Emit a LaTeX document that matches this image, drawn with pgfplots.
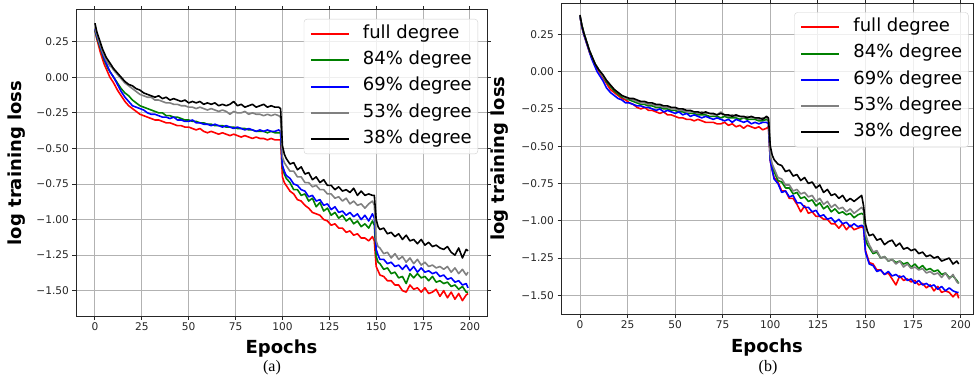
\documentclass[border=0pt]{standalone}
\usepackage{fontspec}
\setmainfont{DejaVu Sans}
\newfontfamily\capfont{Liberation Serif}
\usepackage{pgfplots}
\usepackage{pgfplotstable}
\pgfplotsset{compat=1.18}
\definecolor{mplgreen}{RGB}{0,128,0}
\definecolor{mplgray}{RGB}{128,128,128}

\pgfplotstableread{
x r g b s k
0 0.33 0.33 0.34 0.35 0.38
1 0.27 0.28 0.29 0.30 0.32
2 0.22 0.24 0.25 0.26 0.28
3 0.17 0.20 0.21 0.22 0.24
4 0.13 0.16 0.17 0.18 0.20
5 0.09 0.12 0.13 0.15 0.17
6 0.06 0.09 0.10 0.12 0.14
7 0.03 0.06 0.07 0.10 0.12
8 0.00 0.04 0.04 0.08 0.10
9 -0.02 0.02 0.02 0.07 0.08
10 -0.04 0.00 0.00 0.05 0.06
12 -0.09 -0.04 -0.05 0.02 0.03
14 -0.13 -0.08 -0.10 -0.01 0.00
16 -0.17 -0.11 -0.14 -0.04 -0.03
18 -0.20 -0.13 -0.17 -0.06 -0.05
20 -0.22 -0.16 -0.20 -0.08 -0.06
22 -0.24 -0.18 -0.21 -0.10 -0.08
24 -0.26 -0.20 -0.22 -0.12 -0.09
26 -0.27 -0.21 -0.23 -0.13 -0.11
28 -0.28 -0.22 -0.25 -0.14 -0.12
30 -0.29 -0.23 -0.26 -0.14 -0.13
32 -0.30 -0.24 -0.26 -0.16 -0.14
34 -0.30 -0.25 -0.27 -0.16 -0.13
36 -0.31 -0.25 -0.28 -0.17 -0.15
38 -0.32 -0.27 -0.28 -0.18 -0.14
40 -0.32 -0.27 -0.29 -0.18 -0.16
42 -0.33 -0.28 -0.28 -0.19 -0.15
44 -0.34 -0.28 -0.30 -0.19 -0.16
46 -0.34 -0.29 -0.30 -0.20 -0.17
48 -0.35 -0.30 -0.31 -0.20 -0.16
50 -0.35 -0.30 -0.31 -0.21 -0.18
52 -0.36 -0.31 -0.30 -0.21 -0.17
54 -0.37 -0.31 -0.32 -0.22 -0.18
56 -0.36 -0.32 -0.32 -0.21 -0.17
58 -0.38 -0.32 -0.33 -0.22 -0.19
60 -0.39 -0.33 -0.33 -0.23 -0.18
62 -0.38 -0.33 -0.34 -0.22 -0.19
64 -0.39 -0.34 -0.33 -0.23 -0.18
66 -0.40 -0.34 -0.34 -0.24 -0.20
68 -0.39 -0.34 -0.35 -0.23 -0.19
70 -0.40 -0.35 -0.34 -0.24 -0.20
72 -0.41 -0.35 -0.35 -0.26 -0.19
74 -0.40 -0.35 -0.36 -0.24 -0.17
76 -0.41 -0.36 -0.35 -0.25 -0.20
78 -0.42 -0.36 -0.36 -0.25 -0.19
80 -0.41 -0.36 -0.37 -0.24 -0.21
82 -0.42 -0.37 -0.36 -0.26 -0.20
84 -0.43 -0.37 -0.37 -0.25 -0.19
86 -0.42 -0.38 -0.38 -0.26 -0.21
88 -0.43 -0.38 -0.37 -0.26 -0.20
90 -0.43 -0.38 -0.38 -0.27 -0.19
92 -0.44 -0.39 -0.37 -0.26 -0.21
94 -0.43 -0.38 -0.38 -0.27 -0.20
96 -0.44 -0.39 -0.38 -0.26 -0.21
98 -0.44 -0.39 -0.37 -0.27 -0.21
99 -0.44 -0.39 -0.38 -0.28 -0.22
100 -0.70 -0.63 -0.62 -0.56 -0.48
101 -0.74 -0.68 -0.66 -0.60 -0.54
102 -0.76 -0.71 -0.69 -0.62 -0.57
104 -0.80 -0.74 -0.71 -0.66 -0.61
106 -0.82 -0.79 -0.75 -0.66 -0.60
108 -0.86 -0.79 -0.76 -0.70 -0.65
110 -0.87 -0.83 -0.79 -0.70 -0.63
112 -0.90 -0.82 -0.80 -0.74 -0.68
114 -0.92 -0.87 -0.84 -0.74 -0.67
116 -0.95 -0.85 -0.83 -0.77 -0.72
118 -0.96 -0.91 -0.87 -0.76 -0.70
120 -0.97 -0.88 -0.86 -0.79 -0.74
122 -1.00 -0.94 -0.90 -0.79 -0.72
124 -1.01 -0.92 -0.89 -0.82 -0.76
126 -1.04 -0.97 -0.93 -0.82 -0.76
128 -1.03 -0.95 -0.91 -0.85 -0.79
130 -1.06 -0.99 -0.95 -0.84 -0.77
132 -1.06 -0.97 -0.94 -0.87 -0.80
134 -1.09 -1.01 -0.97 -0.85 -0.79
136 -1.08 -0.99 -0.95 -0.89 -0.81
138 -1.11 -1.03 -0.98 -0.87 -0.78
140 -1.10 -1.01 -0.96 -0.90 -0.83
142 -1.13 -1.05 -1.00 -0.89 -0.80
144 -1.13 -1.03 -0.97 -0.92 -0.83
146 -1.15 -1.06 -1.01 -0.89 -0.82
148 -1.12 -1.01 -0.96 -0.87 -0.83
149 -1.15 -1.04 -0.99 -0.90 -0.83
150 -1.33 -1.26 -1.21 -1.15 -1.00
151 -1.36 -1.30 -1.25 -1.19 -1.05
152 -1.39 -1.31 -1.28 -1.20 -1.07
154 -1.40 -1.35 -1.28 -1.24 -1.06
156 -1.43 -1.34 -1.31 -1.23 -1.10
158 -1.43 -1.38 -1.30 -1.27 -1.09
160 -1.46 -1.37 -1.33 -1.24 -1.12
162 -1.46 -1.41 -1.32 -1.28 -1.10
164 -1.50 -1.40 -1.35 -1.26 -1.14
166 -1.51 -1.45 -1.32 -1.30 -1.11
168 -1.46 -1.38 -1.36 -1.27 -1.15
170 -1.49 -1.41 -1.33 -1.31 -1.14
172 -1.48 -1.38 -1.37 -1.28 -1.17
174 -1.51 -1.41 -1.34 -1.32 -1.14
176 -1.48 -1.40 -1.37 -1.30 -1.18
178 -1.52 -1.43 -1.36 -1.33 -1.16
180 -1.51 -1.40 -1.38 -1.32 -1.19
182 -1.49 -1.44 -1.37 -1.34 -1.18
184 -1.54 -1.43 -1.40 -1.33 -1.20
186 -1.50 -1.45 -1.39 -1.35 -1.21
188 -1.55 -1.44 -1.42 -1.33 -1.19
190 -1.51 -1.47 -1.41 -1.37 -1.23
192 -1.56 -1.46 -1.44 -1.34 -1.25
194 -1.52 -1.49 -1.43 -1.38 -1.20
196 -1.57 -1.47 -1.46 -1.35 -1.27
198 -1.53 -1.51 -1.45 -1.39 -1.21
199 -1.52 -1.51 -1.48 -1.37 -1.22
}\dataA

\pgfplotstableread{
x r g b s k
0 0.37 0.37 0.37 0.37 0.38
1 0.30 0.31 0.30 0.31 0.31
2 0.25 0.26 0.25 0.26 0.26
3 0.21 0.22 0.21 0.22 0.22
4 0.17 0.18 0.17 0.18 0.18
5 0.13 0.14 0.13 0.14 0.14
6 0.10 0.11 0.09 0.11 0.11
7 0.07 0.08 0.06 0.08 0.08
8 0.04 0.05 0.03 0.05 0.05
9 0.02 0.03 0.00 0.03 0.03
10 0.00 0.01 -0.02 0.01 0.01
12 -0.04 -0.03 -0.06 -0.03 -0.02
14 -0.08 -0.07 -0.11 -0.06 -0.06
16 -0.12 -0.10 -0.14 -0.09 -0.09
18 -0.14 -0.13 -0.16 -0.12 -0.12
20 -0.16 -0.15 -0.18 -0.14 -0.14
22 -0.18 -0.17 -0.19 -0.16 -0.16
24 -0.19 -0.18 -0.21 -0.18 -0.17
26 -0.21 -0.19 -0.21 -0.18 -0.18
28 -0.22 -0.20 -0.22 -0.19 -0.18
30 -0.24 -0.21 -0.23 -0.20 -0.19
32 -0.25 -0.22 -0.23 -0.21 -0.20
34 -0.24 -0.22 -0.24 -0.21 -0.20
36 -0.26 -0.23 -0.24 -0.22 -0.21
38 -0.26 -0.23 -0.25 -0.22 -0.21
40 -0.27 -0.24 -0.26 -0.23 -0.22
42 -0.28 -0.24 -0.25 -0.23 -0.22
44 -0.27 -0.25 -0.27 -0.24 -0.23
46 -0.29 -0.25 -0.26 -0.24 -0.23
48 -0.29 -0.26 -0.27 -0.25 -0.24
50 -0.30 -0.26 -0.28 -0.25 -0.24
52 -0.31 -0.27 -0.27 -0.26 -0.25
54 -0.31 -0.27 -0.29 -0.26 -0.25
56 -0.32 -0.28 -0.28 -0.27 -0.26
58 -0.32 -0.28 -0.30 -0.27 -0.26
60 -0.33 -0.28 -0.29 -0.27 -0.27
62 -0.32 -0.29 -0.30 -0.28 -0.27
64 -0.33 -0.29 -0.31 -0.27 -0.28
66 -0.34 -0.29 -0.30 -0.28 -0.27
68 -0.34 -0.30 -0.31 -0.28 -0.28
70 -0.34 -0.30 -0.32 -0.29 -0.28
72 -0.35 -0.30 -0.31 -0.29 -0.29
74 -0.35 -0.31 -0.32 -0.27 -0.28
76 -0.34 -0.30 -0.33 -0.29 -0.29
78 -0.36 -0.31 -0.32 -0.30 -0.29
80 -0.35 -0.31 -0.34 -0.29 -0.30
82 -0.37 -0.31 -0.32 -0.30 -0.29
84 -0.36 -0.32 -0.33 -0.30 -0.30
86 -0.38 -0.31 -0.34 -0.31 -0.30
88 -0.36 -0.32 -0.33 -0.30 -0.31
90 -0.37 -0.32 -0.35 -0.31 -0.30
92 -0.38 -0.32 -0.34 -0.31 -0.31
94 -0.37 -0.33 -0.35 -0.32 -0.31
96 -0.39 -0.33 -0.34 -0.31 -0.32
98 -0.38 -0.32 -0.34 -0.31 -0.30
99 -0.37 -0.33 -0.35 -0.32 -0.31
100 -0.60 -0.58 -0.60 -0.56 -0.50
101 -0.66 -0.64 -0.66 -0.62 -0.56
102 -0.71 -0.67 -0.72 -0.65 -0.59
104 -0.74 -0.73 -0.75 -0.71 -0.62
106 -0.80 -0.74 -0.81 -0.72 -0.63
108 -0.80 -0.78 -0.80 -0.76 -0.67
110 -0.85 -0.78 -0.84 -0.76 -0.66
112 -0.85 -0.82 -0.83 -0.80 -0.70
114 -0.89 -0.81 -0.88 -0.79 -0.69
116 -0.94 -0.85 -0.88 -0.82 -0.73
118 -0.90 -0.84 -0.91 -0.81 -0.71
120 -0.95 -0.87 -0.91 -0.84 -0.75
122 -0.94 -0.86 -0.94 -0.83 -0.74
124 -0.97 -0.90 -0.93 -0.87 -0.78
126 -0.97 -0.88 -0.97 -0.85 -0.76
128 -0.99 -0.92 -0.96 -0.89 -0.81
130 -0.99 -0.90 -0.99 -0.87 -0.79
132 -1.02 -0.94 -0.98 -0.91 -0.83
134 -1.02 -0.92 -1.01 -0.89 -0.82
136 -1.05 -0.95 -0.99 -0.92 -0.85
138 -1.02 -0.94 -1.02 -0.91 -0.83
140 -1.06 -0.96 -1.01 -0.94 -0.87
142 -1.03 -0.95 -1.04 -0.92 -0.85
144 -1.06 -0.98 -1.02 -0.95 -0.87
146 -1.05 -0.96 -1.04 -0.93 -0.85
148 -1.04 -0.95 -1.03 -0.91 -0.83
149 -1.05 -0.96 -1.04 -0.93 -0.90
150 -1.20 -1.12 -1.21 -1.09 -1.02
151 -1.24 -1.16 -1.25 -1.13 -1.07
152 -1.28 -1.18 -1.29 -1.16 -1.10
154 -1.29 -1.22 -1.30 -1.21 -1.09
156 -1.33 -1.21 -1.34 -1.20 -1.13
158 -1.33 -1.25 -1.33 -1.25 -1.12
160 -1.36 -1.24 -1.36 -1.24 -1.16
162 -1.35 -1.27 -1.34 -1.27 -1.14
164 -1.39 -1.26 -1.37 -1.26 -1.13
166 -1.43 -1.28 -1.36 -1.29 -1.17
168 -1.37 -1.27 -1.38 -1.27 -1.15
170 -1.40 -1.29 -1.37 -1.31 -1.19
172 -1.39 -1.28 -1.40 -1.29 -1.18
174 -1.41 -1.31 -1.39 -1.32 -1.20
176 -1.40 -1.29 -1.42 -1.31 -1.19
178 -1.43 -1.32 -1.40 -1.33 -1.22
180 -1.42 -1.30 -1.43 -1.32 -1.21
182 -1.45 -1.33 -1.42 -1.35 -1.24
184 -1.43 -1.32 -1.44 -1.34 -1.23
186 -1.47 -1.34 -1.43 -1.36 -1.25
188 -1.44 -1.33 -1.46 -1.35 -1.24
190 -1.48 -1.36 -1.44 -1.38 -1.27
192 -1.47 -1.35 -1.47 -1.35 -1.26
194 -1.48 -1.38 -1.45 -1.39 -1.25
196 -1.51 -1.37 -1.47 -1.36 -1.29
198 -1.48 -1.40 -1.48 -1.41 -1.27
199 -1.52 -1.42 -1.48 -1.42 -1.29
}\dataB

\pgfplotsset{
  legend image code/.code={\draw[#1, line width=2pt] (0pt,0pt) -- (38pt,0pt);},
  panel/.style={
    scale only axis, anchor=south west,
    axis line style={black!85, line width=1pt},
    grid=major, grid style={color=black!30, line width=0.9pt},
    tick align=outside, major tick length=3.5pt,
    tick style={black!85, line width=0.9pt},
    xtick={0,25,50,75,100,125,150,175,200},
    xticklabels={0,25,50,75,100,125,150,175,200},
    ytick={-1.5,-1.25,-1,-0.75,-0.5,-0.25,0,0.25},
    yticklabels={−1.50,−1.25,−1.00,−0.75,−0.50,−0.25,0.00,0.25},
    ticklabel style={font=\fontsize{10.6}{12}\selectfont, text=black!85},
    label style={font=\bfseries\fontsize{18}{20}\selectfont},
    xlabel={Epochs}, ylabel={log training loss},
    legend cell align=left,
    legend style={anchor=north east, draw=black!18, rounded corners=3pt,
      fill=white, fill opacity=0.8, text opacity=1,
      font=\fontsize{18}{20}\selectfont, inner sep=6pt, row sep=8.8pt,
      column sep=13pt,
      nodes={inner sep=0pt, text height=13pt, text depth=4.5pt}},
  },
  curve/.style={line width=1.6pt, mark=none, line join=round},
}

\begin{document}
\begin{tikzpicture}[x=1pt,y=1pt]
\useasboundingbox (0,0) rectangle (974,378);

\begin{axis}[panel, at={(76pt,62pt)}, width=411pt, height=306pt,
  xmin=-10.1, xmax=209.1, ymin=-1.678, ymax=0.473,
  ylabel style={at={(axis description cs:-0.1436,0.5)}, anchor=center},
  xlabel style={at={(axis description cs:0.5,-0.124)}, anchor=base},
  legend style={at={(axis description cs:1,1)}, xshift=-9pt, yshift=-9pt}]
\addplot[curve, red] table[x=x,y=r]{\dataA};
\addlegendentry{full degree}
\addplot[curve, mplgreen] table[x=x,y=g]{\dataA};
\addlegendentry{84\% degree}
\addplot[curve, blue] table[x=x,y=b]{\dataA};
\addlegendentry{69\% degree}
\addplot[curve, mplgray] table[x=x,y=s]{\dataA};
\addlegendentry{53\% degree}
\addplot[curve, black] table[x=x,y=k]{\dataA};
\addlegendentry{38\% degree}
\end{axis}

\begin{axis}[panel, at={(561pt,64pt)}, width=412pt, height=310.7pt,
  xmin=-9.97, xmax=206.5, ymin=-1.625, ymax=0.458,
  ylabel style={at={(axis description cs:-0.148,0.5)}, anchor=center},
  xlabel style={at={(axis description cs:0.5,-0.124)}, anchor=base},
  legend style={at={(axis description cs:1,1)}, xshift=-4.5pt, yshift=-9pt}]
\addplot[curve, red] table[x=x,y=r]{\dataB};
\addlegendentry{full degree}
\addplot[curve, mplgreen] table[x=x,y=g]{\dataB};
\addlegendentry{84\% degree}
\addplot[curve, blue] table[x=x,y=b]{\dataB};
\addlegendentry{69\% degree}
\addplot[curve, mplgray] table[x=x,y=s]{\dataB};
\addlegendentry{53\% degree}
\addplot[curve, black] table[x=x,y=k]{\dataB};
\addlegendentry{38\% degree}
\end{axis}

\node[font=\capfont\fontsize{16}{16}\selectfont, anchor=base] at (272pt,7pt) {(a)};
\node[font=\capfont\fontsize{16}{16}\selectfont, anchor=base] at (768pt,7pt) {(b)};
\end{tikzpicture}
\end{document}
